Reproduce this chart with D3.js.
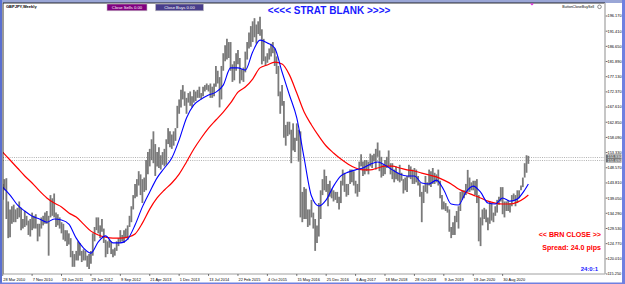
<!DOCTYPE html>
<html><head><meta charset="utf-8">
<script src="https://cdn.jsdelivr.net/npm/d3@7"></script>
<style>body{margin:0;background:#fff;overflow:hidden} svg{display:block}</style>
</head><body>
<svg id="c" width="625" height="284"></svg>
<script>
// ---- DATA (weekly GBPJPY, one bar every 2 weeks starting 28 Mar 2010) ----
const barHigh = [
143.5,145.0,145.3,138.0,135.5,136.5,137.0,135.5,136.0,138.0,136.0,132.5,135.0,133.5,132.0,132.5,134.5,133.5,134.0,131.0,131.0,133.0,133.5,134.5,135.0,133.5,
140.0,139.0,140.5,134.5,134.0,133.0,131.5,131.0,129.0,129.0,128.0,126.5,122.5,121.5,122.5,125.5,125.0,122.5,123.0,122.5,121.0,121.5,122.5,128.0,130.0,133.0,
133.0,130.5,132.5,129.5,126.0,125.5,126.0,125.5,123.0,123.5,125.5,126.5,129.0,127.5,129.0,129.5,130.5,133.5,136.5,140.0,143.5,145.0,147.5,146.5,145.0,145.5,
151.0,153.5,154.5,157.5,160.0,156.0,153.5,155.0,152.5,153.5,154.5,157.5,161.0,160.0,159.0,160.0,161.0,168.0,170.0,173.0,174.5,172.5,170.5,172.0,172.5,171.0,
173.0,172.5,173.0,174.0,172.0,174.0,174.5,175.0,174.5,175.0,174.0,175.0,180.5,179.0,177.0,180.5,184.5,187.0,189.0,188.0,188.0,181.0,182.0,184.5,185.5,183.0,
179.5,180.0,185.0,188.0,191.0,193.0,194.5,195.5,193.5,194.5,195.9,192.0,189.0,183.5,184.5,186.0,187.5,188.0,186.0,183.5,180.5,172.5,174.5,169.5,162.0,163.0,
163.0,160.5,162.5,158.0,162.5,160.5,160.0,141.0,142.5,142.0,135.5,135.5,138.5,134.5,132.5,130.5,137.5,141.5,145.0,148.0,146.0,143.5,144.5,142.0,141.5,141.0,
141.0,139.5,144.5,148.0,147.0,143.5,143.5,148.0,148.0,147.5,144.5,143.5,150.5,152.8,150.5,151.0,151.0,150.5,153.0,152.5,153.0,154.5,156.5,154.0,152.0,149.5,
151.0,152.0,154.0,150.0,150.0,148.0,149.0,147.0,149.5,147.0,145.0,145.5,146.0,149.5,149.0,148.0,148.5,148.0,146.0,144.0,141.0,143.0,146.0,144.0,148.0,147.5,
148.5,147.0,146.5,148.0,144.5,140.0,138.0,137.5,136.5,135.5,130.0,131.5,133.5,135.0,136.5,141.0,141.5,141.5,143.5,147.9,145.5,144.0,144.5,144.5,145.0,140.0,
133.0,135.5,136.0,135.5,133.0,138.0,137.5,134.5,136.5,138.5,139.5,142.5,142.5,138.0,138.0,138.5,137.5,140.0,140.5,140.0,141.5,141.5,143.0,145.5,150.0,152.5,152.3
];
const barLow = [
138.5,141.5,132.5,126.5,126.8,131.0,131.5,131.5,132.5,133.0,129.0,129.5,130.0,130.5,127.5,127.0,129.0,129.5,129.5,125.5,127.0,129.5,130.5,131.0,131.0,121.0,
133.0,133.5,133.0,130.0,130.5,129.5,128.0,126.0,125.5,124.0,124.5,120.5,117.5,117.5,119.5,119.5,121.0,119.0,119.5,119.5,117.5,116.8,118.5,121.0,125.5,129.0,
128.0,126.5,128.5,125.0,120.5,121.5,123.5,121.5,120.5,121.0,122.5,124.0,125.0,125.5,125.0,126.5,126.0,130.0,131.5,135.5,139.0,139.5,143.0,140.0,137.5,141.0,
141.5,146.5,149.0,151.0,150.0,146.0,149.0,148.5,148.0,149.5,149.0,149.5,156.0,155.0,154.5,155.5,157.0,161.0,165.5,167.5,170.0,168.0,165.5,169.0,168.0,167.5,
169.0,169.5,170.5,170.5,170.0,171.0,172.5,173.0,172.5,170.5,170.5,171.0,174.0,175.0,167.5,170.0,179.0,182.0,182.5,183.0,179.0,175.5,176.0,179.0,181.0,175.0,
176.0,175.5,178.5,182.5,186.0,186.5,188.0,189.5,187.5,190.5,190.0,181.0,182.0,180.5,181.5,182.5,183.5,184.5,180.5,178.0,171.0,165.5,168.0,158.0,155.5,158.5,
159.0,150.0,154.0,153.5,157.0,150.5,133.0,131.5,132.5,132.5,130.0,130.5,133.0,129.5,122.5,125.0,127.0,132.5,140.0,141.5,141.0,136.5,139.5,139.0,138.0,138.5,
137.5,135.5,137.5,143.0,141.0,139.5,140.0,143.5,144.0,143.0,140.5,139.5,141.0,149.0,146.0,146.5,147.5,146.5,149.0,148.5,150.5,148.0,152.0,147.5,145.5,146.0,
146.5,148.5,149.0,146.5,145.0,144.0,145.0,144.5,144.0,144.5,140.5,141.5,141.0,145.5,145.0,143.5,143.5,144.0,143.0,139.5,131.5,137.5,141.0,140.5,143.0,142.5,
143.5,143.5,144.0,143.0,139.0,135.5,135.5,135.0,134.5,128.5,126.5,127.5,127.5,131.5,129.5,135.0,138.5,139.0,140.0,141.0,141.0,141.5,141.5,140.0,137.5,125.5,
124.0,130.5,132.5,131.5,129.0,131.0,132.0,131.5,133.5,134.5,137.0,138.0,134.0,133.0,135.0,135.0,134.5,136.5,138.5,136.5,137.5,139.0,141.5,142.5,145.5,147.0,149.8
];
// moving averages read every 8 weeks (bar index)
const maBar = [0,4,8,12,16,20,24,28,32,36,40,44,48,52,56,60,64,68,72,76,80,84,88,92,96,100,104,108,112,116,120,124,128,132,136,140,144,148,152,156,160,164,168,172,176,180,184,188,192,196,200,204,208,212,216,220,224,228,232,236,240,244,248,252,256,260,264,268,272,276,280,284,286];
const maFast = [142.5,140.0,136.9,135.0,133.4,132.5,131.5,132.5,132.2,130.9,126.5,123.4,121.8,125.3,127.2,125.0,125.0,126.2,130.6,136.3,141.0,145.4,148.5,151.6,157.3,164.2,168.3,170.1,171.4,172.3,174.5,179.9,179.9,179.2,184.9,188.6,187.7,186.1,178.6,171.4,164.2,151.6,139.7,136.6,138.5,142.8,146.0,147.2,147.9,148.5,149.7,150.4,149.4,147.9,146.6,146.0,146.0,143.8,143.5,144.7,141.6,137.2,136.9,140.9,142.8,140.9,137.5,137.2,139.1,138.1,138.8,141.6,143.5];
const maSlow = [153.5,151.0,148.5,146.0,143.8,141.3,139.1,137.5,136.3,134.4,133.1,130.9,128.7,127.5,126.8,126.5,126.5,126.8,127.8,131.2,135.6,139.1,141.6,143.8,146.6,150.4,154.45,157.9,161.0,163.55,166.05,168.9,172.3,173.9,176.4,179.9,180.8,181.7,181.1,177.7,172.0,166.05,162.0,158.5,155.4,153.2,151.3,149.7,148.5,147.9,147.9,148.5,149.1,149.1,148.5,147.9,147.55,146.9,146.3,145.7,144.7,143.5,141.9,140.9,140.0,139.1,138.1,137.5,137.2,137.2,137.8,139.1,140.0];
const priceTicks = [196.170,191.410,186.650,181.890,177.130,172.370,167.610,162.850,158.090,153.330,148.570,143.810,139.050,134.290,129.530,124.770,120.010,115.250];
const dateLabels = ["28 Mar 2010","7 Nov 2010","19 Jun 2011","29 Jan 2012","9 Sep 2012","21 Apr 2013","1 Dec 2013","13 Jul 2014","22 Feb 2015","4 Oct 2015","15 May 2016","25 Dec 2016","6 Aug 2017","18 Mar 2018","28 Oct 2018","9 Jun 2019","19 Jan 2020","30 Aug 2020"];
const dateWeek = [0,32,64,96,128,160,192,224,256,288,320,352,384,416,448,480,512,544];
const levelLines = [152.05, 150.85];
const levelLabels = ["151.930","151.690"];
const titleText = "<<<< STRAT BLANK >>>>";
const symbolText = "GBPJPY,Weekly";
const buttons = [{t:"Close Sells 0.00", fill:"#800080"},{t:"Close Buys 0.00", fill:"#483d8b"}];

// ---- DRAW ----
const svg = d3.select("#c");
const W=625,H=284;
const pL=3, pR=605, pT=3, pB=274;
const x = d3.scaleLinear().domain([0,574]).range([2.7,530.2]);   // weeks
const y = d3.scaleLinear().domain([115.25,196.17]).range([274,16]);
const F = "'Liberation Sans', Arial, sans-serif";

svg.append("rect").attr("width",W).attr("height",H).attr("fill","#ffffff");
// window border
svg.append("rect").attr("x",0).attr("y",0).attr("width",W).attr("height",3).attr("fill","#9aa6d6");
svg.append("rect").attr("x",0).attr("y",0).attr("width",2).attr("height",H).attr("fill","#5a6fd0");
svg.append("rect").attr("x",622).attr("y",0).attr("width",3).attr("height",H).attr("fill","#6f80e0");
svg.append("rect").attr("x",0).attr("y",282.5).attr("width",W).attr("height",1.5).attr("fill","#6f80e0");

const plot = svg.append("g");
plot.append("clipPath").attr("id","clip").append("rect").attr("x",pL).attr("y",pT).attr("width",pR-pL).attr("height",pB-pT);
const g = plot.append("g").attr("clip-path","url(#clip)");

// level dotted lines
g.selectAll("line.lvl").data(levelLines).join("line").attr("class","lvl")
  .attr("x1",pL).attr("x2",pR).attr("y1",d=>Math.round(y(d))+0.5).attr("y2",d=>Math.round(y(d))+0.5)
  .attr("stroke","#a0a0a0").attr("stroke-width",0.8).attr("stroke-dasharray","1,1.2");

// price bars
g.selectAll("line.bar").data(barHigh).join("line").attr("class","bar")
  .attr("x1",(d,i)=>x(i*2)).attr("x2",(d,i)=>x(i*2))
  .attr("y1",d=>y(d)).attr("y2",(d,i)=>y(barLow[i]))
  .attr("stroke","#7a7a7a").attr("stroke-width",1.8);

const line = d3.line().x(d=>x(d[0]*2)).y(d=>y(d[1])).curve(d3.curveMonotoneX);
g.append("path").datum(maBar.map((b,i)=>[b,maSlow[i]])).attr("d",line)
  .attr("fill","none").attr("stroke","#ff0000").attr("stroke-width",1.2);
g.append("path").datum(maBar.map((b,i)=>[b,maFast[i]])).attr("d",line)
  .attr("fill","none").attr("stroke","#0000ff").attr("stroke-width",1.1);

// frame
svg.append("line").attr("x1",pL).attr("x2",pR).attr("y1",pT).attr("y2",pT).attr("stroke","#000").attr("stroke-width",0.8);
svg.append("line").attr("x1",pL).attr("x2",pL).attr("y1",pT).attr("y2",pB).attr("stroke","#000").attr("stroke-width",0.8);
svg.append("line").attr("x1",pL).attr("x2",pR).attr("y1",pB).attr("y2",pB).attr("stroke","#888").attr("stroke-width",0.8);
svg.append("line").attr("x1",pR).attr("x2",pR).attr("y1",pT).attr("y2",pB).attr("stroke","#b8b8b8").attr("stroke-width",1.6);

// price axis
const pa = svg.append("g");
pa.selectAll("line").data(priceTicks).join("line")
  .attr("x1",pR+0.8).attr("x2",pR+2.5).attr("y1",d=>y(d)).attr("y2",d=>y(d)).attr("stroke","#000").attr("stroke-width",0.6);
pa.selectAll("text").data(priceTicks).join("text")
  .attr("x",607.5).attr("y",d=>y(d)+1.4).attr("font-family",F).attr("font-size",3.9).attr("fill","#000")
  .text(d=>d3.format(".3f")(d));
// current price box
levelLines.forEach((v,i)=>{
  const yy=y(v);
  svg.append("rect").attr("x",606).attr("y",yy-2.2).attr("width",15.5).attr("height",4.2).attr("fill","#707070");
  svg.append("text").attr("x",607.5).attr("y",yy+1.4).attr("font-family",F).attr("font-size",3.9).attr("fill","#fff").text(levelLabels[i]);
});

// date axis
const da = svg.append("g");
da.selectAll("line").data(dateWeek).join("line")
  .attr("x1",d=>x(d)).attr("x2",d=>x(d)).attr("y1",pB).attr("y2",pB+2).attr("stroke","#000").attr("stroke-width",0.5);
da.selectAll("text").data(dateWeek).join("text")
  .attr("x",d=>x(d)+0.6).attr("y",280.5).attr("font-family",F).attr("font-size",3.9).attr("fill","#000")
  .text((d,i)=>dateLabels[i]);

// top labels
svg.append("text").attr("x",6).attr("y",8).attr("font-family",F).attr("font-size",4).attr("font-weight","bold").attr("fill","#000").text(symbolText);
const bx=[107,155.5], bw=[40,48];
buttons.forEach((b,i)=>{
  svg.append("rect").attr("x",bx[i]).attr("y",4).attr("width",bw[i]).attr("height",6.8).attr("fill",b.fill).attr("stroke","#c0c0c0").attr("stroke-width",0.6);
  svg.append("text").attr("x",bx[i]+bw[i]/2).attr("y",8.8).attr("text-anchor","middle").attr("font-family",F).attr("font-size",4.2).attr("fill","#fff").text(b.t);
});
svg.append("text").attr("x",329).attr("y",13.5).attr("text-anchor","middle").attr("font-family",F).attr("font-size",10).attr("font-weight","bold").attr("fill","#1a1aff").text(titleText);
svg.append("text").attr("x",594).attr("y",8).attr("text-anchor","end").attr("font-family",F).attr("font-size",3.6).attr("fill","#000").text("ButtonCloseBuySell");
svg.append("circle").attr("cx",599.5).attr("cy",6.8).attr("r",1.8).attr("fill","#fff").attr("stroke","#444").attr("stroke-width",0.6);
svg.append("path").attr("d","M530,3.4 L534,3.4 L532,5.4 Z").attr("fill","#e020e0");

// right-side texts
svg.append("text").attr("x",601).attr("y",237).attr("text-anchor","end").attr("font-family",F).attr("font-size",7.1).attr("font-weight","bold").attr("fill","#ff0000").text("<< BRN CLOSE >>");
svg.append("text").attr("x",601).attr("y",250.3).attr("text-anchor","end").attr("font-family",F).attr("font-size",7.1).attr("font-weight","bold").attr("fill","#ff0000").text("Spread: 24.0 pips");
svg.append("text").attr("x",598).attr("y",271).attr("text-anchor","end").attr("font-family",F).attr("font-size",6).attr("font-weight","bold").attr("fill","#2020ff").text("24:0:1");
</script>
</body></html>
